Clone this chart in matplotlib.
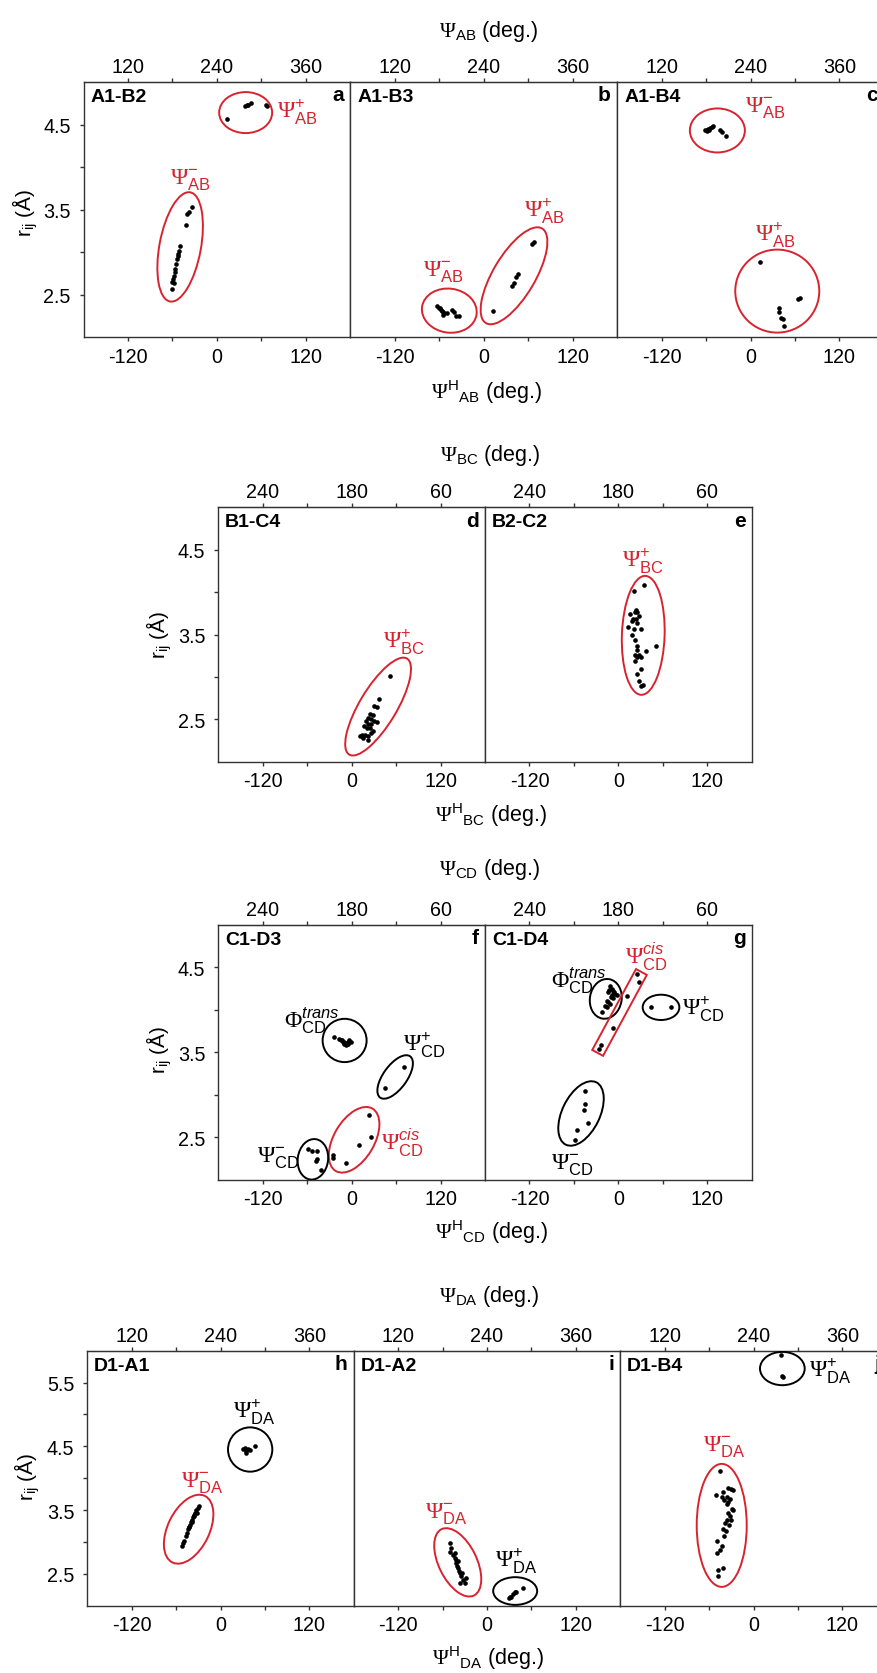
import numpy as np
import matplotlib.pyplot as plt
from matplotlib.patches import Ellipse, Rectangle
from matplotlib.transforms import Affine2D

plt.rcParams['font.family'] = ['Liberation Sans', 'DejaVu Sans']
plt.rcParams['mathtext.fontset'] = 'custom'
plt.rcParams['mathtext.rm'] = 'Liberation Serif'
plt.rcParams['mathtext.sf'] = 'Liberation Sans'
plt.rcParams['mathtext.it'] = 'Liberation Sans:italic'

RED = '#d8232f'
INK = '#333333'

# Psi^H (deg.) and r_ij (Angstrom) for each contact pair
a_psi = [13.1, 37.9, 40.2, 42.4, 45.6, 65.9, 67.3,
         -33.4, -37.9, -41.0, -41.9, -49.6, -51.0, -51.9, -52.3, -53.7, -54.6,
         -56.0, -56.8, -57.7, -59.1, -60.0, -58.2, -60.9]
a_r = [4.56, 4.72, 4.735, 4.727, 4.75, 4.727, 4.715,
       3.53, 3.47, 3.45, 3.32, 3.07, 3.01, 2.98, 2.95, 2.92, 2.86,
       2.80, 2.76, 2.72, 2.68, 2.65, 2.64, 2.56]

b_psi = [12.9, 38.6, 40.9, 43.6, 45.7, 65.6, 67.9,
         -62.5, -59.8, -57.5, -55.2, -53.5, -49.8, -42.6, -39.9, -37.2, -32.7,
         -54.4, -56.6, -58.9]
b_r = [2.31, 2.60, 2.63, 2.71, 2.74, 3.09, 3.12,
       2.36, 2.34, 2.32, 2.30, 2.28, 2.28, 2.32, 2.30, 2.25, 2.25,
       2.26, 2.31, 2.34]

c_psi = [-61.6, -59.3, -57.1, -54.8, -52.5, -50.3, -55.7, -41.3, -38.2, -33.2, -59.3,
         12.9, 38.2, 39.0, 41.3, 43.6, 45.7, 64.7, 67.0]
c_r = [4.43, 4.44, 4.45, 4.46, 4.47, 4.48, 4.44, 4.43, 4.41, 4.37, 4.42,
       2.88, 2.34, 2.30, 2.22, 2.21, 2.13, 2.45, 2.46]

d_psi = [51.1, 36.7, 30.3, 34.8, 24.9, 28.5, 22.6, 25.8, 19.4, 30.3, 34.0, 22.6,
         26.6, 16.7, 20.4, 24.9, 29.3, 13.6, 18.1, 22.6, 25.8, 15.8, 22.6, 11.3]
d_r = [3.01, 2.74, 2.66, 2.65, 2.56, 2.55, 2.52, 2.50, 2.48, 2.48, 2.47, 2.45,
       2.44, 2.42, 2.40, 2.40, 2.36, 2.31, 2.32, 2.30, 2.34, 2.28, 2.26, 2.30]

e_psi = [34.9, 21.3, 24.0, 25.8, 22.7, 15.9, 27.2, 20.4, 24.0, 18.2, 25.0, 13.6,
         21.3, 30.4, 18.2, 22.7, 25.0, 25.0, 37.6, 51.2, 22.7, 27.2, 25.0, 30.4,
         22.7, 30.4, 25.8, 27.2, 30.4, 33.2]
e_r = [4.08, 4.01, 3.79, 3.77, 3.76, 3.74, 3.72, 3.68, 3.68, 3.66, 3.64, 3.59,
       3.57, 3.56, 3.49, 3.44, 3.36, 3.32, 3.31, 3.37, 3.26, 3.26, 3.24, 3.24,
       3.19, 3.09, 3.03, 2.95, 2.89, 2.91]

f_psi = [-23.5, -17.7, -14.4, -12.2, -9.9, -7.6, -5.4, -3.1, -0.8, -9.9, -7.6, -13.0, -5.4,
         70.7, 44.4,
         24.0, 26.4, 10.5, -7.6, -25.8, -25.8,
         -58.4, -53.8, -46.2, -46.2, -47.6, -41.6]
f_r = [3.68, 3.66, 3.64, 3.62, 3.62, 3.61, 3.62, 3.64, 3.62, 3.60, 3.59, 3.65, 3.60,
       3.33, 3.08,
       2.76, 2.50, 2.41, 2.20, 2.29, 2.25,
       2.36, 2.34, 2.34, 2.24, 2.22, 2.12]

g_psi = [-11.3, -9.0, -6.8, -13.6, -4.5, -2.2, -10.3, -7.6, -15.8, -13.6, -11.3,
         -18.1, -15.8, -22.6, -12.2, -5.4, -9.0,
         25.0, 27.2, 11.4, -7.6, -23.9, -25.8,
         44.4, 71.6,
         -45.2, -45.2, -46.2, -41.6, -55.2, -58.8]
g_r = [4.28, 4.25, 4.22, 4.21, 4.19, 4.17, 4.15, 4.14, 4.11, 4.09, 4.07,
       4.05, 4.03, 3.97, 4.24, 4.21, 4.17,
       4.42, 4.33, 4.16, 3.79, 3.59, 3.54,
       4.03, 4.03,
       3.05, 2.89, 2.82, 2.67, 2.59, 2.47]

h_psi = [-51.9, -50.2, -48.8, -46.5, -45.2, -43.8, -43.0, -41.1, -39.7, -38.4,
         -37.6, -36.2, -34.8, -32.9, -30.8, -28.5, -42.0, -35.3, -32.1, -38.4,
         30.2, 32.5, 34.8, 37.0, 33.9, 39.3, 47.1]
h_r = [2.94, 2.99, 3.02, 3.09, 3.14, 3.20, 3.24, 3.27, 3.31, 3.35,
       3.39, 3.43, 3.46, 3.50, 3.54, 3.56, 3.24, 3.41, 3.45, 3.31,
       4.46, 4.47, 4.43, 4.46, 4.39, 4.45, 4.50]

i_psi = [-50.7, -48.4, -49.8, -46.1, -43.9, -42.5, -41.6, -40.7, -39.3, -37.9,
         -36.2, -34.8, -32.5, -30.4, -37.2, -29.0, -33.5, -39.3, -43.9,
         29.8, 33.0, 35.3, 37.4, 39.7, 47.9, 31.6]
i_r = [2.99, 2.91, 2.85, 2.80, 2.75, 2.71, 2.67, 2.63, 2.59, 2.55,
       2.51, 2.46, 2.41, 2.35, 2.36, 2.43, 2.51, 2.70, 2.83,
       2.12, 2.14, 2.19, 2.21, 2.22, 2.27, 2.13]

j_psi = [-45.3, -50.7, -43.0, -40.7, -39.8, -33.9, -30.8, -28.1, -36.2, -31.7,
         -36.2, -29.4, -28.1, -33.9, -31.7, -36.2, -38.4, -32.5, -40.7, -37.2,
         -39.8, -49.8, -43.0, -45.3, -49.8, -40.7, -47.5, -47.5, -33.9, -30.8,
         37.0, 38.4, 39.7]
j_r = [4.11, 3.73, 3.70, 3.78, 3.66, 3.84, 3.83, 3.82, 3.70, 3.68,
       3.59, 3.52, 3.50, 3.46, 3.41, 3.35, 3.30, 3.26, 3.20, 3.17,
       3.09, 3.01, 2.94, 2.87, 2.83, 2.59, 2.56, 2.47, 3.62, 3.35,
       5.93, 5.61, 5.59]

pair_names = {'a': 'A1-B2', 'b': 'A1-B3', 'c': 'A1-B4', 'd': 'B1-C4', 'e': 'B2-C2',
              'f': 'C1-D3', 'g': 'C1-D4', 'h': 'D1-A1', 'i': 'D1-A2', 'j': 'D1-B4'}

top_labels_wrap = ['120', '', '240', '', '360']
top_labels_rev = ['240', '', '180', '', '60']


def tag(sym, sup, sub):
    sups = {'+': r'\mathsf{+}', '-': r'\mathsf{-}',
            'trans': r'\mathit{trans}', 'cis': r'\mathit{cis}'}
    return rf'$\{sym}^{{{sups[sup]}}}_{{\mathsf{{{sub}}}}}$'


# cluster outlines: (psi, r, width px, height px, angle, colour)
rings = {
    'a': [(38.8, 4.64, 53, 41, 0, RED), (-49.6, 3.06, 41.5, 111, -10.5, RED)],
    'b': [(-46.4, 2.31, 55, 44, -8, RED), (40.9, 2.72, 42, 110, -30.7, RED)],
    'c': [(-44.7, 4.43, 55, 44, 0, RED), (36.1, 2.54, 84, 83, 0, RED)],
    'd': [(35.7, 2.65, 37, 112, -31, RED)],
    'e': [(33.6, 3.49, 42.7, 119, -2, RED)],
    'f': [(-9.5, 3.64, 44, 43.3, 0, 'black'), (58.7, 3.21, 23.6, 51, -36, 'black'),
          (3.3, 2.47, 40.4, 72.4, -30.5, RED), (-52.3, 2.24, 30.3, 40.7, -8, 'black')],
    'g': [(-17.0, 4.13, 31.7, 40, -10, 'black'), (57.6, 4.03, 36.7, 25.3, 0, 'black'),
          (-50.4, 2.78, 37.6, 69.4, -26, 'black')],
    'h': [(-43.1, 3.20, 41.6, 74, -26, RED), (40.0, 4.45, 44.3, 44.3, 0, 'black')],
    'i': [(-39.6, 2.68, 38, 73.8, 26, RED), (38.0, 2.23, 44, 27.7, 0, 'black')],
    'j': [(-43.0, 3.26, 50, 123, 0, RED), (38.9, 5.72, 44.7, 33.3, 0, 'black')],
}
# boxed cis group in C1-D4: (psi, r, length px, thickness px, angle)
boxes = {'g': [(1.6, 3.97, 92, 12.3, 61.6, RED)]}

# state labels: (psi, r, symbol, sup, sub, colour)
tags = {
    'a': [(81, 4.65, 'Psi', '+', 'AB', RED), (-63.6, 3.86, 'Psi', '-', 'AB', RED)],
    'b': [(-81.5, 2.78, 'Psi', '-', 'AB', RED), (54.4, 3.49, 'Psi', '+', 'AB', RED)],
    'c': [(-7.4, 4.71, 'Psi', '-', 'AB', RED), (6.1, 3.21, 'Psi', '+', 'AB', RED)],
    'd': [(42.9, 3.42, 'Psi', '+', 'BC', RED)],
    'e': [(4.5, 4.38, 'Psi', '+', 'BC', RED)],
    'f': [(-91.4, 3.89, 'Phi', 'trans', 'CD', 'black'), (69.3, 3.60, 'Psi', '+', 'CD', 'black'),
          (39.9, 2.44, 'Psi', 'cis', 'CD', RED), (-127.7, 2.27, 'Psi', '-', 'CD', 'black')],
    'g': [(-90.5, 4.36, 'Phi', 'trans', 'CD', 'black'), (9.1, 4.64, 'Psi', 'cis', 'CD', RED),
          (86.1, 4.02, 'Psi', '+', 'CD', 'black'), (-90.5, 2.19, 'Psi', '-', 'CD', 'black')],
    'h': [(-53.3, 3.94, 'Psi', '-', 'DA', RED), (16.7, 5.05, 'Psi', '+', 'DA', 'black')],
    'i': [(-83.7, 3.46, 'Psi', '-', 'DA', RED), (10.3, 2.71, 'Psi', '+', 'DA', 'black')],
    'j': [(-67.8, 4.50, 'Psi', '-', 'DA', RED), (74.6, 5.69, 'Psi', '+', 'DA', 'black')],
}

values = {'a': (a_psi, a_r), 'b': (b_psi, b_r), 'c': (c_psi, c_r), 'd': (d_psi, d_r),
          'e': (e_psi, e_r), 'f': (f_psi, f_r), 'g': (g_psi, g_r), 'h': (h_psi, h_r),
          'i': (i_psi, i_r), 'j': (j_psi, j_r)}

# rows: keys, left px, top px, panel width px, height px, r-range, top tick labels, bond,
# and the centres of the top title, bottom title and r_ij label
rows = [
    (['a', 'b', 'c'], 83.5, 83, 266.8, 255, (2, 5), top_labels_wrap, 'AB',
     (489, 31), (487, 392), (25, 213)),
    (['d', 'e'], 218.3, 508.3, 266.7, 254.4, (2, 5), top_labels_rev, 'BC',
     (490, 455), (491, 815), (159, 635)),
    (['f', 'g'], 218.3, 926, 266.7, 254.7, (2, 5), top_labels_rev, 'CD',
     (490, 870), (491, 1232), (159, 1050)),
    (['h', 'i', 'j'], 87.3, 1351.7, 266.5, 255, (2, 6), top_labels_wrap, 'DA',
     (489, 1297), (488, 1658), (27, 1477)),
]

W, H = 877, 1674
fig = plt.figure(figsize=(W / 100, H / 100), dpi=100)

xt = [-120, -60, 0, 60, 120]
xt_lab = ['-120', '', '0', '', '120']
TICK_FS = 14.2

for keys, left, top, pw, ph, (ylo, yhi), toplab, bond, ttl, btl, yl in rows:
    kx, ky = pw / 360, ph / (yhi - ylo)
    for n, key in enumerate(keys):
        ax = fig.add_axes([(left + n * pw) / W, 1 - (top + ph) / H, pw / W, ph / H])
        ax.set_xlim(-180, 180)
        ax.set_ylim(ylo, yhi)
        for s in ax.spines.values():
            s.set_color(INK)
            s.set_linewidth(1.0)
        ax.set_xticks(xt, labels=xt_lab)
        ax.tick_params(axis='x', direction='out', length=3, width=1, color=INK,
                       labelsize=TICK_FS, pad=4.0)
        yt = np.arange(ylo + 0.5, yhi, 0.5)
        ax.set_yticks(yt, labels=[f'{v:.1f}' if (v * 2) % 2 == 1 else '' for v in yt])
        if n == 0:
            ax.tick_params(axis='y', direction='out', length=3, width=1, color=INK,
                           labelsize=TICK_FS, pad=6.3)
        else:
            ax.tick_params(axis='y', left=False, labelleft=False)
        sec = ax.secondary_xaxis('top')
        sec.set_xticks(xt, labels=toplab)
        sec.tick_params(direction='out', length=3, width=1, color=INK,
                        labelsize=TICK_FS, pad=1.3)
        sec.spines['top'].set_color(INK)

        psi, r = values[key]
        ax.scatter(psi, r, s=11, c='black', linewidths=0, zorder=3)

        tr = Affine2D().scale(1 / kx, 1 / ky) + ax.transData
        for cx, cy, w, h, ang, col in rings[key]:
            ax.add_patch(Ellipse((cx * kx, cy * ky), w, h, angle=ang, transform=tr,
                                 fill=False, ec=col, lw=1.4, zorder=4))
        for cx, cy, w, h, ang, col in boxes.get(key, []):
            ax.add_patch(Rectangle((cx * kx - w / 2, cy * ky - h / 2), w, h, angle=ang,
                                   rotation_point='center', transform=tr,
                                   fill=False, ec=col, lw=1.4, zorder=4))
        for tx, ty, sym, sup, sub, col in tags[key]:
            ax.text(tx, ty, tag(sym, sup, sub), color=col, fontsize=17,
                    ha='left', va='center', zorder=5)

        ax.annotate(pair_names[key], xy=(0, 1), xycoords='axes fraction',
                    xytext=(5, -4.3), textcoords='offset points', ha='left', va='top',
                    fontsize=14, fontweight='bold')
        ax.annotate(key, xy=(1, 1), xycoords='axes fraction',
                    xytext=(-4.5, -2.5), textcoords='offset points', ha='right', va='top',
                    fontsize=15, fontweight='bold')

    fig.text(ttl[0] / W, 1 - ttl[1] / H, rf'$\Psi_{{\mathsf{{{bond}}}}}$ (deg.)',
             ha='center', va='center', fontsize=15.5)
    fig.text(btl[0] / W, 1 - btl[1] / H,
             rf'$\Psi^{{\mathsf{{H}}}}{{}}_{{\mathsf{{{bond}}}}}$ (deg.)',
             ha='center', va='center', fontsize=15.5)
    fig.text(yl[0] / W, 1 - yl[1] / H, r'r$_{\mathsf{ij}}$ (Å)', rotation=90,
             ha='center', va='center', fontsize=15)

fig.savefig('out.png', dpi=100)
